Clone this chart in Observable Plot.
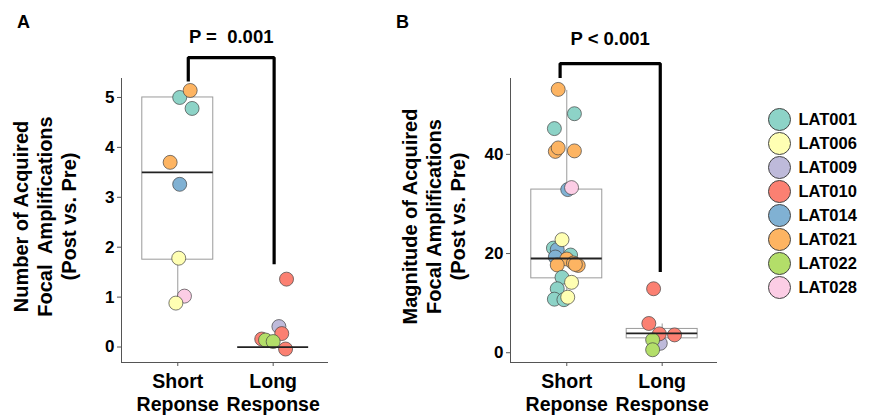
<!DOCTYPE html>
<html>
<head>
<meta charset="utf-8">
<script src="https://cdn.jsdelivr.net/npm/d3@7"></script>
<script src="https://cdn.jsdelivr.net/npm/@observablehq/plot@0.6"></script>
<style>
  body { margin: 0; background: #fff; }
  #wrap { position: relative; width: 870px; height: 415px; overflow: hidden; background: #fff;
          font-family: "Liberation Sans", Arial, Helvetica, sans-serif; font-weight: bold; }
  .letter { position: absolute; font-size: 18px; line-height: 1; color: #000; z-index: 2; }
</style>
</head>
<body>
<div id="wrap">
  <div class="letter" style="left:17px;top:13px">A</div>
  <div class="letter" style="left:396px;top:13px">B</div>
</div>
<script>
const FONT = '"Liberation Sans", Arial, Helvetica, sans-serif';

// ---- shared categories ----
const groups = ["Short", "Long"];
const groupPos = [1, 2];
const xTickLabels = ["Short\nReponse", "Long\nResponse"];
const xDomain = [0.41, 2.58];
const boxHalf = 0.372;

const patients = ["LAT001", "LAT006", "LAT009", "LAT010", "LAT014", "LAT021", "LAT022", "LAT028"];
const patientColors = ["#8DD3C7", "#FFFFB3", "#BEBADA", "#FB8072", "#80B1D3", "#FDB462", "#B3DE69", "#FCCDE5"];

// ---- Panel A: number of acquired focal amplifications ----
const aGroup   = ["Short","Short","Short","Short","Short","Short","Short","Short",
                  "Long","Long","Long","Long","Long","Long","Long"];
const aPatient = ["LAT001","LAT021","LAT001","LAT021","LAT014","LAT006","LAT028","LAT006",
                  "LAT010","LAT010","LAT009","LAT010","LAT022","LAT022","LAT010"];
const aValue   = [5.00, 5.14, 4.78, 3.70, 3.26, 1.78, 1.02, 0.88,
                  1.36, 0.16, 0.41, 0.27, 0.14, 0.11, -0.04];
const aJitter  = [0.02, 0.13, 0.15, -0.08, 0.02, 0.01, 0.07, -0.02,
                  0.14, -0.12, 0.06, 0.09, -0.08, 0.00, 0.13];
const aTicks = [0, 1, 2, 3, 4, 5];
const aYDomain = [-0.31, 5.38];
const aBoxQ1 = [1.75, 0], aBoxMed = [3.5, 0], aBoxQ3 = [5.0, 0], aWhiskLo = [1.0, 0], aWhiskHi = [5.0, 0];
const aBracketX = [1.11, 2.01];
const aBracketY = [5.32, 5.8, 1.66];
const aPLabel = "P =  0.001";
const aYTitle = "Number of Acquired\nFocal  Amplifications\n(Post vs. Pre)";

// ---- Panel B: magnitude of acquired focal amplifications ----
const bGroup   = ["Short","Short","Short","Short","Short","Short","Short","Short",
                  "Short","Short","Short","Short","Short","Short","Short","Short",
                  "Short","Short","Short","Short","Short","Short","Short","Short",
                  "Long","Long","Long","Long","Long","Long","Long"];
const bPatient = ["LAT021","LAT001","LAT001","LAT021","LAT021","LAT021","LAT014","LAT028",
                  "LAT001","LAT014","LAT006","LAT001","LAT014","LAT021","LAT021","LAT021",
                  "LAT021","LAT021","LAT001","LAT006","LAT001","LAT001","LAT001","LAT006",
                  "LAT009","LAT010","LAT010","LAT010","LAT010","LAT022","LAT022"];
const bValue   = [53.1, 48.2, 45.2, 40.6, 41.3, 40.7, 32.9, 33.3,
                  21.1, 20.8, 22.8, 19.7, 19.3, 18.9, 17.7, 18.1,
                  17.6, 17.8, 15.2, 14.2, 12.9, 10.8, 10.7, 11.2,
                  1.9, 12.9, 5.9, 3.8, 3.6, 2.6, 0.6];
const bJitter  = [-0.09, 0.08, -0.13, -0.12, -0.09, 0.08, 0.01, 0.05,
                  -0.14, -0.10, -0.05, 0.04, -0.12, 0.00, -0.10, 0.07,
                  0.12, 0.09, -0.05, 0.05, -0.10, -0.13, -0.03, 0.01,
                  -0.02, -0.09, -0.14, -0.03, 0.13, -0.10, -0.10];
const bTicks = [0, 20, 40];
const bYDomain = [-1.97, 55.3];
const bBoxQ1 = [15.0, 2.9], bBoxMed = [19.0, 3.9], bBoxQ3 = [32.9, 4.8], bWhiskLo = [10.9, 1.6], bWhiskHi = [52.9, 5.8];
const bBracketX = [0.93, 1.98];
const bBracketY = [55.4, 58.3, 16.3];
const bPLabel = "P < 0.001";
const bYTitle = "Magnitude of Acquired\nFocal Amplifications\n(Post vs. Pre)";

function panel(cfg) {
  const pts = cfg.value.map((v, i) => ({
    pos: groupPos[groups.indexOf(cfg.group[i])] + cfg.jitter[i],
    v, patient: cfg.patient[i]
  }));
  const boxes = groups.map((g, i) => ({
    pos: groupPos[i], q1: cfg.q1[i], med: cfg.med[i], q3: cfg.q3[i], lo: cfg.lo[i], hi: cfg.hi[i]
  }));
  const bx = cfg.bracketX, by = cfg.bracketY;
  const bracket = [
    {x: bx[0], y: by[0]}, {x: bx[0], y: by[1]}, {x: bx[1], y: by[1]}, {x: bx[1], y: by[2]}
  ];
  return Plot.plot({
    width: 345, height: 415,
    marginLeft: 121, marginRight: 17, marginTop: 78, marginBottom: 53,
    style: {fontFamily: FONT, fontWeight: "bold", color: "#000", background: "none", overflow: "visible"},
    x: {domain: xDomain, axis: null},
    y: {domain: cfg.yDomain, axis: null},
    color: {domain: patients, range: patientColors},
    marks: [
      Plot.ruleX([xDomain[0]], {stroke: "#555", strokeWidth: 1}),
      Plot.ruleY([cfg.yDomain[0]], {stroke: "#555", strokeWidth: 1}),
      Plot.axisY(cfg.ticks, {tickSize: 4, tickPadding: 3, stroke: "#555", fill: "#000",
                             tickFormat: d => String(d), fontSize: 17, label: null}),
      Plot.axisX(groupPos, {tickSize: 4, tickPadding: 6, stroke: "#555", fill: "#000",
                            tickFormat: d => xTickLabels[groupPos.indexOf(d)],
                            fontSize: 19.5, lineHeight: 1.15, label: null}),
      Plot.text([cfg.yTitle], {text: d => d, frameAnchor: "left", textAnchor: "middle",
                               rotate: -90, dx: -77, dy: -4,
                               fontSize: 20, lineHeight: 1.18, fill: "#000"}),
      Plot.rect(boxes, {x1: d => d.pos - boxHalf, x2: d => d.pos + boxHalf, y1: "q1", y2: "q3",
                        fill: "none", stroke: "#9a9a9a", strokeWidth: 1}),
      Plot.ruleX(boxes, {x: "pos", y1: "lo", y2: "q1", stroke: "#9a9a9a", strokeWidth: 1}),
      Plot.ruleX(boxes, {x: "pos", y1: "q3", y2: "hi", stroke: "#9a9a9a", strokeWidth: 1}),
      Plot.dot(pts, {x: "pos", y: "v", r: 7, fill: "patient", stroke: "#444", strokeWidth: 0.7}),
      Plot.ruleY(boxes, {y: "med", x1: d => d.pos - boxHalf, x2: d => d.pos + boxHalf,
                         stroke: "#222", strokeWidth: 1.8}),
      Plot.line(bracket, {x: "x", y: "y", stroke: "#000", strokeWidth: 3.2,
                          strokeLinejoin: "miter", strokeLinecap: "butt"}),
      Plot.text([cfg.pLabel], {text: d => d, x: (bx[0] + bx[1]) / 2, y: by[1], dy: cfg.pDy,
                               fontSize: 18.5, fill: "#000"})
    ]
  });
}

const wrap = document.getElementById("wrap");
function place(el, left) {
  el.style.position = "absolute";
  el.style.left = left + "px";
  el.style.top = "0px";
  wrap.appendChild(el);
}

place(panel({group: aGroup, patient: aPatient, value: aValue, jitter: aJitter, ticks: aTicks,
             yDomain: aYDomain, q1: aBoxQ1, med: aBoxMed, q3: aBoxQ3, lo: aWhiskLo, hi: aWhiskHi,
             bracketX: aBracketX, bracketY: aBracketY, pLabel: aPLabel, pDy: -20, yTitle: aYTitle}), 0);

place(panel({group: bGroup, patient: bPatient, value: bValue, jitter: bJitter, ticks: bTicks,
             yDomain: bYDomain, q1: bBoxQ1, med: bBoxMed, q3: bBoxQ3, lo: bWhiskLo, hi: bWhiskHi,
             bracketX: bBracketX, bracketY: bBracketY, pLabel: bPLabel, pDy: -25, yTitle: bYTitle}), 389);

const legend = Plot.plot({
  width: 110, height: 415, margin: 0,
  style: {fontFamily: FONT, fontWeight: "bold", color: "#000", background: "none", overflow: "visible"},
  x: {domain: [0, 1], range: [19, 100], axis: null},
  y: {type: "point", domain: patients, range: [104, 302], axis: null},
  color: {domain: patients, range: patientColors},
  marks: [
    Plot.dot(patients, {x: 0, y: d => d, r: 11, fill: d => d, stroke: "#444", strokeWidth: 1}),
    Plot.text(patients, {x: 0, y: d => d, text: d => d, dx: 19, textAnchor: "start",
                         fontSize: 16.5, fill: "#000"})
  ]
});
place(legend, 760);
</script>
</body>
</html>
